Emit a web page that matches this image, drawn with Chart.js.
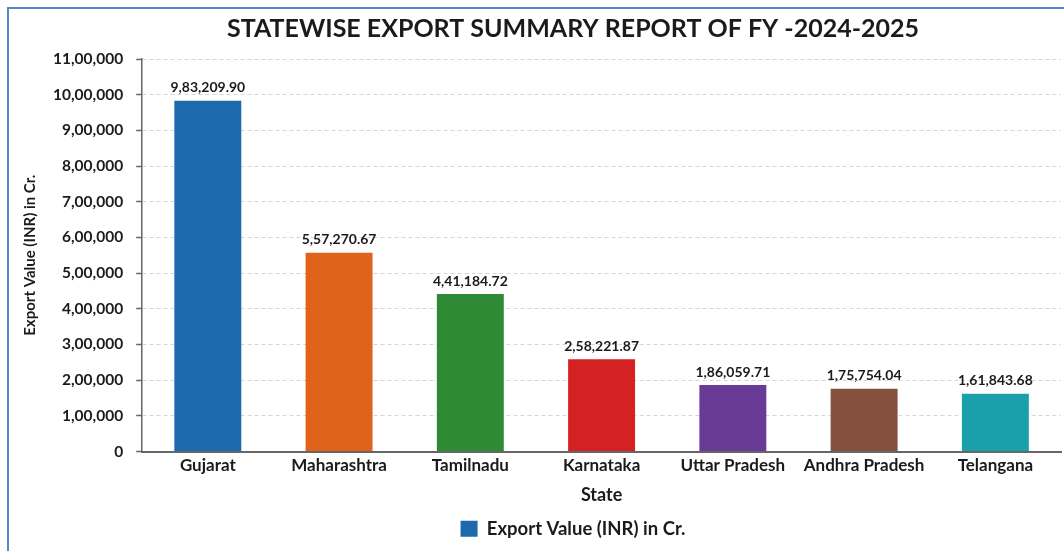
<!DOCTYPE html>
<html>
<head>
<meta charset="utf-8">
<script src="https://cdn.jsdelivr.net/npm/chart.js@4"></script>
<style>
  html, body { margin: 0; padding: 0; overflow: hidden; background: #ffffff; width: 1064px; height: 551px; }
  #frame { position: absolute; left: 7px; top: 7px; width: 1200px; height: 700px; border-left: 2px solid #5b86c6; border-top: 2px solid #5b86c6; }
  #wrap { position: absolute; left: 0; top: 0; width: 1146px; height: 551px; }
</style>
</head>
<body>
<div id="frame"></div>
<div id="wrap"><canvas id="c" width="1146" height="551"></canvas></div>
<script>
const states = ["Gujarat", "Maharashtra", "Tamilnadu", "Karnataka", "Uttar Pradesh", "Andhra Pradesh", "Telangana"];
const exportValues = [983209.90, 557270.67, 441184.72, 258221.87, 186059.71, 175754.04, 161843.68];
const barColors = ["#1c69ae", "#e0631c", "#2f8a36", "#d42121", "#6a3a97", "#86503f", "#19a0a8"];
const yMax = 1100000;
const yStep = 100000;
const chartTitle = "STATEWISE EXPORT SUMMARY REPORT OF FY -2024-2025";
const seriesName = "Export Value (INR) in Cr.";
const xTitle = "State";
const yTitle = "Export Value (INR) in Cr.";

function inr(v, dec) {
  const s = v.toFixed(dec);
  const parts = s.split('.');
  let intPart = parts[0];
  let last3 = intPart.slice(-3);
  const rest = intPart.slice(0, -3);
  if (rest) last3 = rest.replace(/\B(?=(\d{2})+(?!\d))/g, ',') + ',' + last3;
  return parts[1] ? last3 + '.' + parts[1] : last3;
}

const FONT = "Lato, 'Noto Sans', sans-serif";
const TXT = "#1b1b1b";

const dataLabels = {
  id: 'dataLabels',
  afterDatasetsDraw(chart) {
    const ctx = chart.ctx;
    const meta = chart.getDatasetMeta(0);
    ctx.save();
    ctx.font = "bold 14px " + FONT;
    ctx.fillStyle = TXT;
    ctx.textAlign = 'center';
    ctx.textBaseline = 'bottom';
    meta.data.forEach((el, i) => {
      ctx.fillText(inr(chart.data.datasets[0].data[i], 2), el.x, el.y - 6);
    });
    ctx.restore();
  }
};

new Chart(document.getElementById('c'), {
  type: 'bar',
  data: {
    labels: states,
    datasets: [{
      label: seriesName,
      data: exportValues,
      backgroundColor: barColors,
      borderWidth: 0,
      barPercentage: 0.51,
      categoryPercentage: 1.0
    }]
  },
  options: {
    responsive: false,
    animation: false,
    devicePixelRatio: 1,
    layout: { padding: { left: 12, right: 12, top: 6, bottom: 3 } },
    plugins: {
      title: {
        display: true,
        text: chartTitle,
        color: TXT,
        font: { family: FONT, size: 25, weight: 'bold' },
        padding: { top: 8, bottom: 15 }
      },
      legend: {
        display: true,
        position: 'bottom',
        labels: {
          color: TXT,
          font: { family: FONT, size: 18.5, weight: 'bold' },
          boxWidth: 17,
          boxHeight: 16,
          padding: 10,
          generateLabels: (chart) => [{
            text: seriesName,
            fillStyle: barColors[0],
            strokeStyle: barColors[0],
            lineWidth: 0,
            fontColor: TXT,
            datasetIndex: 0
          }]
        }
      },
      tooltip: { enabled: false }
    },
    scales: {
      x: {
        grid: { display: false, drawTicks: false },
        border: { display: true, color: '#666666', width: 2 },
        ticks: { color: TXT, font: { family: FONT, size: 17, weight: 'bold' }, padding: 4 },
        title: { display: true, text: xTitle, color: TXT, font: { family: FONT, size: 18, weight: 'bold' }, padding: { top: 4, bottom: 4 } }
      },
      y: {
        min: 0,
        max: yMax,
        ticks: {
          stepSize: yStep,
          color: TXT,
          font: { family: FONT, size: 15.5, weight: 'bold' },
          padding: 13,
          callback: (v) => inr(v, 0)
        },
        grid: {
          color: '#d6d6d6',
          lineWidth: 1,
          tickLength: 6,
          tickColor: '#666666',
          tickBorderDash: [],
          tickWidth: 1.5
        },
        border: { display: true, color: '#666666', width: 1.5, dash: [4, 3] },
        title: { display: true, text: yTitle, color: TXT, font: { family: FONT, size: 15, weight: 'bold' }, padding: { top: 9, bottom: 1 } }
      },
      yPad: {
        position: 'right',
        display: true,
        grid: { display: false, drawTicks: false },
        border: { display: false },
        ticks: { display: false },
        afterFit: (scale) => { scale.width = 73; }
      }
    }
  },
  plugins: [dataLabels]
});
</script>
</body>
</html>
